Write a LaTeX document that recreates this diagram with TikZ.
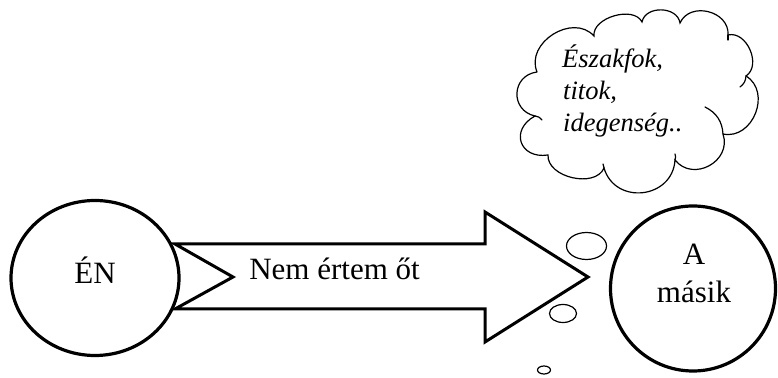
\documentclass[tikz,border=0pt]{standalone}
\usepackage{fontspec}
\setmainfont{Liberation Serif}
\usetikzlibrary{shapes.geometric}
\begin{document}
\begin{tikzpicture}[x=1pt,y=1pt,
  bigring/.style={draw, line width=3.2pt, inner sep=0pt},
  bubble/.style={draw, ellipse, line width=1.2pt, inner sep=0pt},
  cloudline/.style={line width=1.2pt, line cap=round},
  bigtext/.style={font=\fontsize{31}{37}\selectfont, inner sep=0pt, anchor=base},
  cloudtext/.style={font=\fontsize{26.5}{32}\selectfont\itshape, inner sep=0pt, anchor=base west},
  lobe/.style={bend left=80, looseness=#1}]
\useasboundingbox (0,0) rectangle (778,377);

% circles
\node[bigring, ellipse, minimum width=168pt, minimum height=155pt] (en) at (95,99) {};
\node[bigtext] (entext) at (95,93) {ÉN};
\node[bigring, circle, minimum size=165pt] (masik) at (693,88.5) {};
\node[bigtext] (masikA) at (694,112) {A};
\node[bigtext] (masikB) at (694,74) {másik};

% notched arrow
\coordinate (a1) at (175,133);
\coordinate (a2) at (485,133);
\coordinate (a3) at (485,165);
\coordinate (a4) at (588,100);
\coordinate (a5) at (485,35);
\coordinate (a6) at (485,68);
\coordinate (a7) at (175,68);
\coordinate (a8) at (233,100);
\draw[line width=3pt, line join=miter] (a1) -- (a2) -- (a3) -- (a4) -- (a5) -- (a6) -- (a7) -- (a8) -- cycle;
\node[bigtext] (arrowtext) at (334.5,97) {Nem értem őt};

% thought bubbles
\node[bubble, minimum width=40pt, minimum height=27pt] (b1) at (586.5,131) {};
\node[bubble, minimum width=27pt, minimum height=18pt] (b2) at (563,63.5) {};
\node[bubble, minimum width=13pt, minimum height=8pt] (b3) at (544,7) {};

% cloud
\coordinate (p1) at (537,305);
\coordinate (p2) at (594,341);
\coordinate (p3) at (642,355);
\coordinate (p4) at (680,354);
\coordinate (p5) at (728,342);
\coordinate (p6) at (746,301);
\coordinate (p7) at (723,243);
\coordinate (p8) at (675,217);
\coordinate (p9) at (604,209);
\coordinate (p10) at (548,222);
\coordinate (p11) at (535,261);
\draw[cloudline]
  (p1) to[lobe=1.2] (p2) to[lobe=0.95] (p3) to[lobe=1.15] (p4)
  to[lobe=1.25] (p5) to[lobe=1.1] (p6) to[lobe=1.25] (p7)
  to[lobe=1.35] (p8) to[lobe=1.4] (p9) to[lobe=1.0] (p10)
  to[lobe=1.8] (p11) to[lobe=1.5] (p1);
% inner curls
\coordinate (c5) at (728,337);
\coordinate (c6) at (740,290);
\coordinate (c7) at (705,270);
\coordinate (c8) at (675,223);
\coordinate (c9) at (603,213);
\coordinate (c11) at (542,257);
\draw[cloudline] (p5) to[bend left=20] (c5);
\draw[cloudline] (p6) to[bend left=25] (c6);
\draw[cloudline] (c7) to[bend left=30] (p7);
\draw[cloudline] (c8) to[bend left=20] (p8);
\draw[cloudline] (c9) to[bend left=20] (p9);
\draw[cloudline] (p11) to[bend left=25] (c11);

\node[cloudtext] (t1) at (562,309) {Északfok,};
\node[cloudtext] (t2) at (563,277) {titok,};
\node[cloudtext] (t3) at (563,245) {idegenség..};
\end{tikzpicture}
\end{document}
